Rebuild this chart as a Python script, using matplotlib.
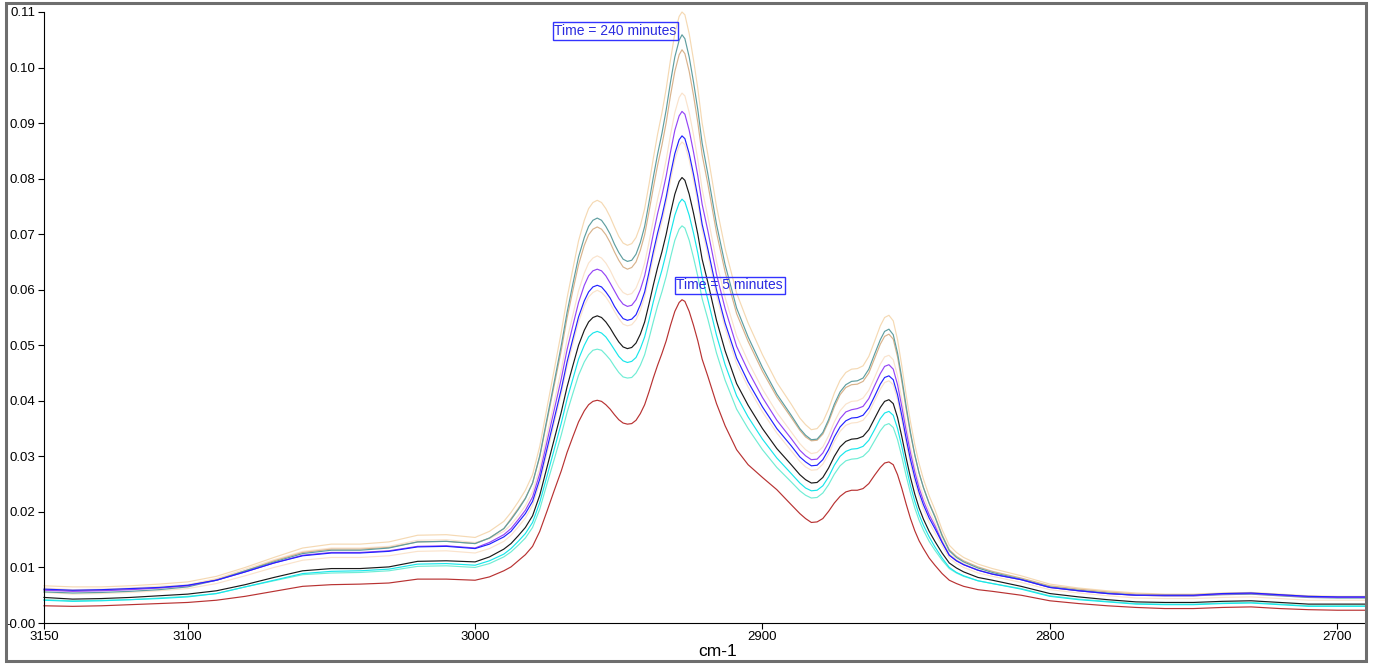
import matplotlib
matplotlib.use("Agg")
import matplotlib.pyplot as plt
from matplotlib.patches import Rectangle
from matplotlib.ticker import FixedLocator, FixedFormatter

plt.rcParams['font.family'] = ['Liberation Sans', 'DejaVu Sans']

wavenumber = [3150, 3140, 3130, 3120, 3110, 3100, 3090, 3080, 3070, 3060, 3050, 3040, 3030, 3020, 3010, 3000, 2995, 2990,
              2987.5, 2985, 2982.5, 2980, 2977.5, 2975, 2972.5, 2970, 2968, 2966,
              2964, 2962, 2960.5, 2959, 2957.5, 2956, 2954.5, 2953, 2951.5, 2950,
              2948.5, 2947, 2945.5, 2944, 2942.5, 2941, 2939.5, 2938, 2936.5, 2935,
              2933.5, 2932, 2930.5, 2929, 2928, 2927, 2925.5, 2924, 2922.5, 2921,
              2919, 2916, 2913, 2909, 2905, 2900, 2895, 2890, 2887, 2885,
              2883, 2881, 2879, 2877, 2875, 2873, 2871, 2869, 2867, 2865,
              2863, 2861, 2859, 2857.5, 2856, 2854.5, 2853, 2851.5, 2850, 2848.5,
              2847, 2845.5, 2844, 2842, 2840, 2837.5, 2835, 2832.5, 2830, 2825,
              2820, 2810, 2800, 2790, 2780, 2770, 2760, 2750, 2740, 2730, 2720, 2710, 2700, 2690]

bisque_top = [.0067, .0065, .0065, .0067, .0070, .0074, .0084, .0100, .0118, .0135, .0142, .0142, .0146, .0158, .0159, .0154, .0165, .0183,
              .0199, .0218, .0239, .0267, .0318, .0387, .0455, .0524, .0585, .0637,
              .0688, .0725, .0746, .0757, .0761, .0757, .0746, .0731, .0713, .0696,
              .0684, .0680, .0683, .0694, .0715, .0746, .0789, .0836, .0880, .0918,
              .0962, .1014, .1061, .1092, .1100, .1095, .1061, .1014, .0962, .0900,
              .0843, .0750, .0674, .0594, .0540, .0483, .0433, .0394, .0369, .0357,
              .0348, .0350, .0362, .0385, .0414, .0437, .0451, .0457, .0458, .0463,
              .0480, .0507, .0535, .0550, .0554, .0544, .0510, .0462, .0410, .0362,
              .0321, .0287, .0259, .0229, .0204, .0168, .0140, .0127, .0118, .0106,
              .0098, .0085, .0070, .0063, .0058, .0054, .0052, .0052, .0054, .0055, .0052, .0049, .0048, .0048]

cadet = [.0056, .0054, .0055, .0057, .0060, .0065, .0077, .0094, .0110, .0125, .0131, .0131, .0135, .0146, .0147, .0143, .0153, .0170,
         .0186, .0204, .0224, .0252, .0301, .0367, .0433, .0500, .0559, .0610,
         .0659, .0694, .0714, .0725, .0729, .0725, .0714, .0700, .0682, .0667,
         .0655, .0651, .0653, .0664, .0685, .0714, .0757, .0802, .0844, .0881,
         .0924, .0974, .1019, .1049, .1059, .1052, .1019, .0974, .0924, .0864,
         .0808, .0718, .0645, .0567, .0515, .0460, .0412, .0374, .0350, .0338,
         .0330, .0331, .0343, .0366, .0394, .0416, .0429, .0435, .0436, .0441,
         .0457, .0484, .0510, .0525, .0529, .0519, .0486, .0440, .0390, .0343,
         .0303, .0270, .0244, .0215, .0191, .0157, .0130, .0118, .0110, .0099,
         .0091, .0079, .0065, .0059, .0054, .0050, .0049, .0049, .0051, .0052, .0049, .0046, .0045, .0045]

burly = [.0060, .0058, .0059, .0061, .0063, .0067, .0078, .0094, .0112, .0127, .0133, .0133, .0136, .0146, .0147, .0143, .0153, .0170,
         .0188, .0206, .0225, .0252, .0299, .0363, .0427, .0491, .0549, .0598,
         .0645, .0680, .0699, .0709, .0713, .0709, .0699, .0685, .0668, .0653,
         .0641, .0637, .0640, .0650, .0671, .0699, .0740, .0783, .0824, .0860,
         .0901, .0950, .0993, .1023, .1032, .1025, .0993, .0950, .0901, .0843,
         .0790, .0703, .0632, .0557, .0507, .0453, .0407, .0370, .0347, .0335,
         .0328, .0329, .0340, .0362, .0389, .0411, .0424, .0429, .0430, .0435,
         .0450, .0476, .0502, .0516, .0520, .0511, .0479, .0434, .0385, .0340,
         .0302, .0270, .0244, .0216, .0193, .0159, .0132, .0120, .0112, .0101,
         .0093, .0081, .0067, .0061, .0056, .0052, .0051, .0051, .0053, .0054, .0051, .0048, .0047, .0047]

peach1 = [.0063, .0060, .0061, .0063, .0066, .0069, .0080, .0097, .0114, .0129, .0135, .0135, .0138, .0149, .0150, .0145, .0152, .0165,
          .0177, .0193, .0211, .0236, .0279, .0338, .0397, .0456, .0510, .0554,
          .0598, .0630, .0648, .0657, .0661, .0657, .0648, .0635, .0619, .0605,
          .0595, .0591, .0593, .0603, .0622, .0648, .0685, .0725, .0763, .0796,
          .0834, .0879, .0919, .0946, .0954, .0949, .0919, .0879, .0834, .0781,
          .0731, .0651, .0586, .0517, .0471, .0421, .0379, .0344, .0323, .0312,
          .0305, .0307, .0317, .0337, .0362, .0382, .0394, .0399, .0400, .0405,
          .0419, .0442, .0466, .0479, .0482, .0474, .0445, .0403, .0359, .0317,
          .0282, .0252, .0229, .0203, .0181, .0150, .0125, .0114, .0107, .0096,
          .0089, .0078, .0064, .0058, .0053, .0050, .0049, .0049, .0051, .0052, .0049, .0046, .0046, .0046]

purple = [.0059, .0057, .0058, .0060, .0063, .0067, .0077, .0092, .0108, .0122, .0127, .0127, .0130, .0138, .0139, .0135, .0145, .0159,
          .0170, .0186, .0203, .0227, .0269, .0326, .0383, .0440, .0492, .0535,
          .0577, .0608, .0625, .0634, .0637, .0634, .0625, .0612, .0598, .0584,
          .0574, .0570, .0572, .0582, .0600, .0625, .0661, .0700, .0737, .0769,
          .0805, .0848, .0887, .0913, .0921, .0916, .0887, .0848, .0805, .0754,
          .0706, .0628, .0566, .0498, .0454, .0406, .0365, .0332, .0311, .0301,
          .0294, .0295, .0306, .0325, .0349, .0368, .0380, .0384, .0386, .0390,
          .0404, .0427, .0449, .0462, .0465, .0457, .0429, .0389, .0346, .0306,
          .0272, .0243, .0220, .0195, .0175, .0146, .0122, .0112, .0105, .0095,
          .0088, .0078, .0064, .0058, .0053, .0050, .0049, .0049, .0052, .0053, .0050, .0047, .0046, .0046]

blue = [.0061, .0059, .0060, .0062, .0064, .0068, .0077, .0092, .0108, .0121, .0126, .0126, .0129, .0137, .0138, .0134, .0142, .0155,
        .0165, .0181, .0197, .0219, .0259, .0313, .0367, .0421, .0470, .0511,
        .0551, .0580, .0596, .0605, .0608, .0605, .0596, .0585, .0570, .0558,
        .0548, .0545, .0547, .0555, .0573, .0596, .0631, .0668, .0702, .0732,
        .0767, .0808, .0845, .0870, .0877, .0872, .0845, .0808, .0767, .0718,
        .0673, .0600, .0540, .0477, .0434, .0389, .0350, .0319, .0299, .0290,
        .0283, .0284, .0294, .0312, .0335, .0353, .0364, .0369, .0370, .0374,
        .0387, .0408, .0430, .0442, .0445, .0438, .0411, .0373, .0332, .0294,
        .0262, .0235, .0213, .0189, .0170, .0145, .0122, .0112, .0105, .0095,
        .0088, .0078, .0064, .0058, .0053, .0050, .0050, .0050, .0053, .0054, .0051, .0048, .0047, .0047]

peach2 = [.0055, .0052, .0053, .0055, .0058, .0062, .0071, .0085, .0100, .0113, .0118, .0118, .0121, .0129, .0130, .0126, .0134, .0147,
          .0158, .0173, .0189, .0212, .0251, .0305, .0359, .0413, .0461, .0502,
          .0542, .0571, .0587, .0595, .0599, .0595, .0587, .0575, .0561, .0548,
          .0538, .0535, .0537, .0546, .0563, .0587, .0621, .0658, .0692, .0722,
          .0757, .0797, .0834, .0859, .0866, .0861, .0834, .0797, .0757, .0708,
          .0663, .0590, .0531, .0467, .0425, .0380, .0342, .0310, .0291, .0281,
          .0275, .0276, .0286, .0304, .0327, .0345, .0356, .0360, .0361, .0365,
          .0378, .0400, .0421, .0433, .0436, .0429, .0402, .0364, .0323, .0286,
          .0253, .0227, .0205, .0181, .0162, .0139, .0117, .0107, .0100, .0090,
          .0084, .0073, .0060, .0054, .0049, .0045, .0044, .0044, .0046, .0047, .0044, .0041, .0041, .0041]

black = [.0046, .0043, .0044, .0046, .0049, .0052, .0058, .0069, .0082, .0094, .0098, .0098, .0101, .0111, .0112, .0110, .0119, .0133,
         .0143, .0157, .0172, .0193, .0230, .0280, .0330, .0380, .0425, .0463,
         .0500, .0527, .0542, .0550, .0553, .0550, .0542, .0531, .0518, .0506,
         .0497, .0494, .0496, .0504, .0520, .0542, .0574, .0608, .0640, .0668,
         .0700, .0738, .0772, .0795, .0802, .0797, .0772, .0738, .0700, .0655,
         .0613, .0545, .0490, .0431, .0392, .0350, .0314, .0285, .0267, .0258,
         .0252, .0253, .0262, .0279, .0300, .0317, .0327, .0331, .0332, .0336,
         .0348, .0368, .0388, .0399, .0402, .0395, .0370, .0335, .0297, .0262,
         .0232, .0207, .0187, .0165, .0147, .0126, .0108, .0099, .0092, .0082,
         .0077, .0066, .0053, .0047, .0042, .0038, .0037, .0037, .0039, .0040, .0037, .0034, .0034, .0034]

cyan = [.0041, .0039, .0040, .0042, .0044, .0047, .0053, .0065, .0077, .0089, .0093, .0094, .0097, .0106, .0107, .0104, .0112, .0124,
        .0134, .0147, .0161, .0181, .0217, .0264, .0312, .0360, .0403, .0439,
        .0475, .0500, .0515, .0522, .0525, .0522, .0515, .0504, .0492, .0480,
        .0472, .0469, .0471, .0478, .0494, .0515, .0545, .0578, .0608, .0635,
        .0666, .0702, .0734, .0756, .0763, .0758, .0734, .0702, .0666, .0623,
        .0582, .0518, .0465, .0409, .0371, .0331, .0297, .0269, .0252, .0243,
        .0238, .0239, .0247, .0263, .0284, .0300, .0309, .0313, .0314, .0318,
        .0329, .0348, .0368, .0378, .0381, .0374, .0350, .0317, .0281, .0247,
        .0219, .0195, .0176, .0155, .0137, .0117, .0100, .0091, .0085, .0076,
        .0071, .0061, .0048, .0042, .0038, .0034, .0033, .0033, .0035, .0036, .0033, .0030, .0030, .0030]

aqua = [.0042, .0040, .0041, .0042, .0045, .0048, .0053, .0065, .0076, .0087, .0090, .0091, .0094, .0102, .0103, .0100, .0107, .0119,
        .0128, .0140, .0153, .0172, .0205, .0250, .0294, .0339, .0379, .0413,
        .0446, .0470, .0483, .0491, .0493, .0491, .0483, .0474, .0462, .0451,
        .0443, .0441, .0442, .0450, .0464, .0483, .0512, .0542, .0571, .0596,
        .0624, .0658, .0689, .0709, .0715, .0711, .0689, .0658, .0624, .0584,
        .0547, .0486, .0437, .0385, .0350, .0312, .0280, .0254, .0238, .0230,
        .0225, .0226, .0234, .0249, .0268, .0283, .0292, .0295, .0296, .0300,
        .0310, .0328, .0346, .0356, .0359, .0352, .0330, .0299, .0265, .0234,
        .0207, .0185, .0167, .0147, .0131, .0113, .0098, .0090, .0084, .0076,
        .0071, .0062, .0049, .0043, .0039, .0035, .0034, .0034, .0036, .0037, .0034, .0031, .0031, .0031]

red = [.0031, .0030, .0031, .0033, .0035, .0037, .0041, .0048, .0057, .0066, .0069, .0070, .0072, .0079, .0079, .0077, .0083, .0094,
       .0101, .0112, .0123, .0138, .0165, .0201, .0238, .0274, .0307, .0335,
       .0362, .0382, .0393, .0399, .0401, .0399, .0393, .0385, .0375, .0366,
       .0360, .0358, .0359, .0365, .0377, .0393, .0416, .0441, .0464, .0485,
       .0508, .0536, .0561, .0577, .0582, .0579, .0561, .0536, .0508, .0475,
       .0444, .0395, .0355, .0312, .0285, .0262, .0240, .0213, .0197, .0188,
       .0181, .0182, .0188, .0201, .0216, .0228, .0236, .0239, .0239, .0242,
       .0251, .0266, .0280, .0288, .0290, .0285, .0267, .0242, .0214, .0188,
       .0166, .0148, .0134, .0117, .0104, .0089, .0077, .0071, .0066, .0060,
       .0057, .0050, .0040, .0035, .0031, .0028, .0026, .0026, .0028, .0029, .0026, .0024, .0023, .0023]

series = [
    (bisque_top, '#F5D9B3'),
    (peach1, '#FAE3CC'),
    (peach2, '#FAE3CC'),
    (burly, '#D9B38C'),
    (cadet, '#5F9EA0'),
    (aqua, '#70EDD5'),
    (cyan, '#19E6EB'),
    (purple, '#9545F5'),
    (blue, '#2222FF'),
    (black, '#1A1A1A'),
    (red, '#B83232'),
]

yticks = [0.0, 0.01, 0.02, 0.03, 0.04, 0.05, 0.06, 0.07, 0.08, 0.09, 0.10, 0.11]
ytick_labels = ['-0.00', '0.01', '0.02', '0.03', '0.04', '0.05', '0.06', '0.07', '0.08', '0.09', '0.10', '0.11']
xticks = [3150, 3100, 3000, 2900, 2800, 2700]
xtick_labels = ['3150', '3100', '3000', '2900', '2800', '2700']

W, H = 1375, 666
fig = plt.figure(figsize=(W / 100, H / 100), dpi=100)
ax = fig.add_axes([44 / W, 1 - 623 / H, (1366 - 44) / W, (623 - 12) / H])

for vals, col in series:
    ax.plot(wavenumber, vals, color=col, lw=0.85, solid_joinstyle='round', clip_on=False)

ax.set_xlim(3150, 2690)
ax.set_ylim(0.0, 0.11)
ax.xaxis.set_major_locator(FixedLocator(xticks))
ax.xaxis.set_major_formatter(FixedFormatter(xtick_labels))
ax.yaxis.set_major_locator(FixedLocator(yticks))
ax.yaxis.set_major_formatter(FixedFormatter(ytick_labels))
ax.tick_params(direction='out', length=4, width=0.8, labelsize=9.5, colors='black', pad=2)
for s in ['top', 'right']:
    ax.spines[s].set_visible(False)
for s in ['left', 'bottom']:
    ax.spines[s].set_linewidth(0.8)
    ax.spines[s].set_color('black')

box = dict(boxstyle='square,pad=0.12', fc='none', ec='#3333FF', lw=1.0)
ax.text(2951.2, 0.1066, 'Time = 240 minutes', color='#2B2BE0', fontsize=10,
        ha='center', va='center', bbox=box)
ax.text(2911.4, 0.0608, 'Time = 5 minutes', color='#2B2BE0', fontsize=10,
        ha='center', va='center', bbox=box)

fig.text(718 / W, 1 - 652 / H, 'cm-1', fontsize=12.5, ha='center', va='center')

fig.patches.append(Rectangle((6 / W, 1 - 661 / H), (1366 - 6) / W, (661 - 3) / H,
                             transform=fig.transFigure, fill=False, ec='#6E6E6E', lw=2.2))

fig.savefig('out.png', dpi=100)
